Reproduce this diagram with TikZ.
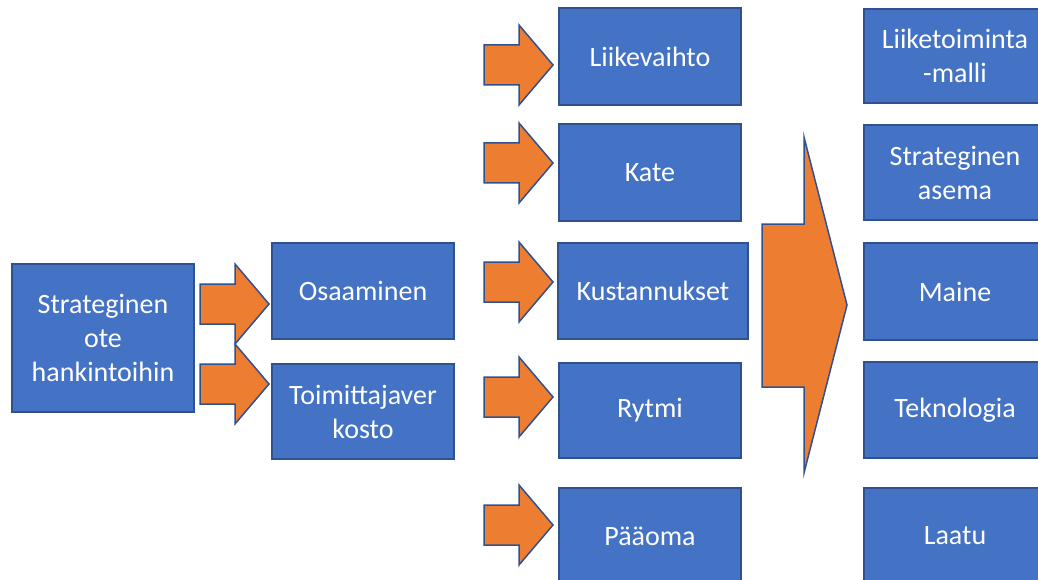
\documentclass[tikz,border=0pt]{standalone}
\usepackage{fontspec}
\setmainfont{Carlito}
\usetikzlibrary{math}
\definecolor{boxblue}{RGB}{68,114,196}
\definecolor{edgeblue}{RGB}{47,82,143}
\definecolor{arroworange}{RGB}{237,125,49}

\begin{document}
\begin{tikzpicture}[x=1pt,y=-1pt,
  box/.style={draw=edgeblue, line width=2pt, fill=boxblue, text=white, align=center,
    minimum width=182pt, minimum height=96pt, inner sep=0pt,
    font=\fontsize{28}{34}\selectfont},
  blockarrow/.style={draw=edgeblue, line width=1.5pt, fill=arroworange}]
\tikzmath{
\sh=20; \sl=35; \hl=34;
}
\useasboundingbox (0,0) rectangle (1038,580);
\clip (0,0) rectangle (1038,580);

% left side
\node[box, minimum height=148pt] (strat) at (103,338) {Strateginen\\ote\\hankintoihin};
\node[box] (osa) at (363,291) {Osaaminen};
\node[box, minimum height=95pt] (toim) at (363,411.5) {Toimittajaver\\kosto};

% middle column
\node[box, minimum height=97pt] (liike) at (650,56.5) {Liikevaihto};
\node[box, minimum height=97pt] (kate) at (650,172.5) {Kate};
\node[box, minimum width=190pt] (kust) at (653,291) {Kustannukset};
\node[box, minimum height=95pt] (rytmi) at (650,410.5) {Rytmi};
\node[box] (paa) at (650,536) {Pääoma};

% right column
\node[box, minimum height=94pt] (malli) at (955,56) {Liiketoiminta\\-malli};
\node[box, minimum height=95pt] (asema) at (955,172.5) {Strateginen\\asema};
\node[box, minimum height=97pt] (maine) at (955,291.5) {Maine};
\node[box] (tekno) at (955,410) {Teknologia};
\node[box] (laatu) at (955,536) {Laatu};

% small arrows
\foreach \x/\y in {200/304, 200/384, 484/65, 484/163, 484/282, 484/397, 484/525}{
\draw[blockarrow] (\x,\y-\sh) -- ++(\sl,0) -- ++(0,-\sh) -- ++(\hl,2*\sh)
  -- ++(-\hl,2*\sh) -- ++(0,-\sh) -- ++(-\sl,0) -- cycle;
}

% big arrow
\draw[blockarrow] (762,224) -- (804,224) -- (804,137) -- (847,305)
  -- (804,473) -- (804,387) -- (762,387) -- cycle;

\end{tikzpicture}
\end{document}
